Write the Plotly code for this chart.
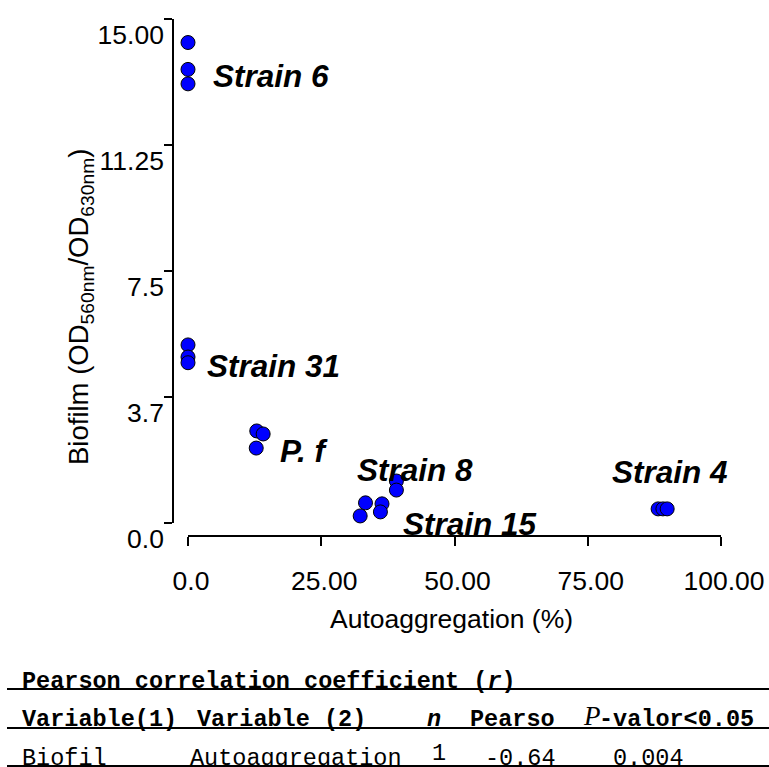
import plotly.graph_objects as go

# ---- data -------------------------------------------------------------
strain6_x = [0.0, 0.0, 0.0]
strain6_y = [14.30, 13.50, 13.07]

strain31_x = [0.0, 0.0, 0.0]
strain31_y = [5.30, 4.94, 4.77]

pf_x = [12.9, 14.1, 12.8]
pf_y = [2.74, 2.65, 2.23]

strain8_x = [39.1, 39.1, 36.4]
strain8_y = [1.25, 0.98, 0.57]

strain15_x = [33.3, 32.3, 36.1]
strain15_y = [0.60, 0.21, 0.33]

strain4_x = [88.2, 89.1, 89.9]
strain4_y = [0.42, 0.42, 0.42]

group_names = ["Strain 6", "Strain 31", "P. f", "Strain 8", "Strain 15", "Strain 4"]
group_x = [strain6_x, strain31_x, pf_x, strain8_x, strain15_x, strain4_x]
group_y = [strain6_y, strain31_y, pf_y, strain8_y, strain15_y, strain4_y]

x_tick_vals = [0, 25, 50, 75, 100]
x_tick_text = ["0.0", "25.00", "50.00", "75.00", "100.00"]
y_tick_vals = [0, 3.75, 7.5, 11.25, 15]
y_tick_text = ["0.0", "3.7", "7.5", "11.25", "15.00"]

# correlation table
table_title = "Pearson correlation coefficient (<i>r</i>)"
table_header = ["Variable(1)", "Variable (2)", "<i>n</i>", "Pearso", "-valor&lt;0.05"]
table_row = ["Biofil", "Autoaggregation", "1", "-0.64", "0.004"]

# ---- layout helpers ---------------------------------------------------
W, H = 769, 767


def fx(p):
    return p / W


def fy(p):
    return 1 - p / H


# where each strain label sits (data coordinates) and a vertical pixel nudge
label_pos = {
    "Strain 6": (4.3, 13.30, 0),
    "Strain 31": (3.2, 4.67, 0),
    "P. f": (16.9, 2.14, 0),
    "Strain 8": (31.3, 1.58, 0),
    "Strain 15": (39.9, 0.0, -1),
    "Strain 4": (79.1, 1.52, 0),
}

fig = go.Figure()

for name, xs, ys in zip(group_names, group_x, group_y):
    fig.add_trace(go.Scatter(
        x=xs, y=ys, mode="markers", name=name, showlegend=False,
        cliponaxis=False,
        marker=dict(size=14, color="#0000FF", line=dict(color="black", width=1)),
    ))

axis_font = dict(family="Liberation Sans, Arial", size=26.5, color="black")

annotations = []
for name in group_names:
    lx, ly, dy = label_pos[name]
    annotations.append(dict(
        x=lx, y=ly, yshift=dy, xref="x", yref="y", text=f"<b><i>{name}</i></b>",
        showarrow=False, xanchor="left", yanchor="middle",
        font=dict(family="Liberation Sans, Arial", size=31.5, color="black"),
    ))

# axis titles
annotations.append(dict(
    x=fx(451), y=fy(619), xref="paper", yref="paper",
    text="Autoaggregation (%)", showarrow=False,
    xanchor="center", yanchor="middle", font=axis_font,
))
annotations.append(dict(
    x=fx(80), y=fy(307), xref="paper", yref="paper",
    text="Biofilm (OD<sub>560nm</sub>/OD<sub>630nm</sub>)", showarrow=False,
    textangle=-90, xanchor="center", yanchor="middle",
    font=dict(family="Liberation Sans, Arial", size=27.5, color="black"),
))

# table text
mono = "Liberation Mono, Courier New, monospace"
tsize = 23.5


def cell(text, x, yc, bold=True, family=mono, size=tsize):
    t = f"<b>{text}</b>" if bold else text
    return dict(x=fx(x), y=fy(yc), xref="paper", yref="paper", text=t,
                showarrow=False, xanchor="left", yanchor="middle",
                font=dict(family=family, size=size, color="black"))


annotations.append(cell(table_title, 20, 681))

header_x = [20, 195, 425, 468, 597]
for txt, hx in zip(table_header, header_x):
    annotations.append(cell(txt, hx, 719))
annotations.append(cell("<i>P</i>", 581, 716, bold=False,
                        family="Liberation Serif, Times New Roman", size=27))

row_x = [20, 188, 430, 483, 611]
row_y = [758, 758, 753, 758, 758]
for txt, rx, ry in zip(table_row, row_x, row_y):
    annotations.append(cell(txt, rx, ry, bold=False))

shapes = []
for ly in [689, 728, 766]:
    shapes.append(dict(type="line", xref="paper", yref="paper",
                       x0=fx(7), x1=1, y0=fy(ly), y1=fy(ly),
                       line=dict(color="black", width=2)))

fig.update_layout(
    width=W, height=H, autosize=False,
    margin=dict(l=0, r=0, t=0, b=0, autoexpand=False),
    paper_bgcolor="white", plot_bgcolor="white",
    xaxis=dict(
        domain=[fx(188), fx(721)], range=[0, 100],
        anchor="free", position=fy(536), automargin=False,
        showline=True, linecolor="black", linewidth=1.5,
        ticks="outside", ticklen=9, tickwidth=1.5, tickcolor="black",
        tickvals=x_tick_vals, ticktext=x_tick_text, tickfont=axis_font,
        ticklabelstandoff=12, ticklabelshift=3,
        showgrid=False, zeroline=False,
    ),
    yaxis=dict(
        domain=[fy(523), fy(19)], range=[0, 15],
        anchor="free", position=fx(173), automargin=False,
        showline=True, linecolor="black", linewidth=1.5,
        ticks="outside", ticklen=8, tickwidth=1.5, tickcolor="black",
        tickvals=y_tick_vals, ticktext=y_tick_text, tickfont=axis_font,
        ticklabelshift=16, ticklabelstandoff=-5,
        showgrid=False, zeroline=False,
    ),
    annotations=annotations,
    shapes=shapes,
)

fig.write_html("out.html")
